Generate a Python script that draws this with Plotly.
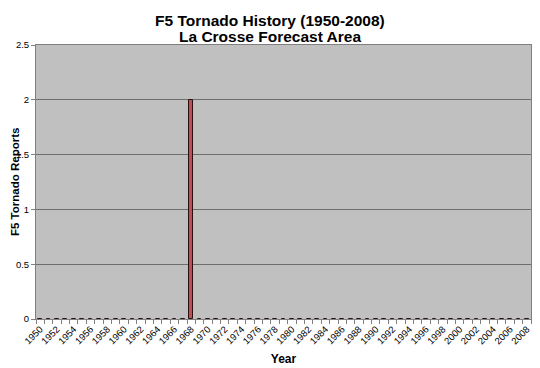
import plotly.graph_objects as go

years = list(range(1950, 2009))
reports = [0] * len(years)
reports[years.index(1968)] = 2
tick_years = list(range(1950, 2009, 2))
title_lines = ["F5 Tornado History (1950-2008)", "La Crosse Forecast Area"]

fig = go.Figure()
fig.add_trace(go.Bar(
    x=years, y=reports, width=0.45,
    marker=dict(color="#bb5055", line=dict(color="#2a1010", width=1)),
))
fig.update_layout(
    width=532, height=360,
    paper_bgcolor="white", plot_bgcolor="#c0c0c0",
    margin=dict(l=28, r=9, t=37, b=49, autoexpand=False),
    showlegend=False,
    font=dict(family="Arial, Liberation Sans", color="black"),
    bargap=0,
)
for i, line in enumerate(title_lines):
    fig.add_annotation(
        text="<b>" + line + "</b>", xref="paper", yref="paper",
        x=0.473, y=1, xanchor="center", yanchor="middle",
        yshift=25 - 16 * i, showarrow=False,
        font=dict(size=15.5, color="black"),
    )
fig.add_annotation(
    text="<b>F5 Tornado Reports</b>", xref="paper", yref="paper",
    x=0, y=0.5, xanchor="center", yanchor="middle", xshift=-21,
    textangle=-90, showarrow=False, font=dict(size=11.5, color="black"),
)
fig.update_xaxes(
    range=[1949.5, 2008.5], automargin=False,
    tickmode="array", tickvals=tick_years, ticktext=[str(y) for y in tick_years],
    tickangle=-45, tickfont=dict(size=9.5), ticks="",
    showgrid=False, showline=True, linecolor="#808080", mirror=True,
    minor=dict(ticks="outside", ticklen=4, tick0=1949.5, dtick=1, tickcolor="#808080", showgrid=False),
    title=dict(text="<b>Year</b>", font=dict(size=12), standoff=9),
    zeroline=False,
)
fig.update_yaxes(
    range=[0, 2.5], dtick=0.5, tickformat="~g", automargin=False,
    tickfont=dict(size=9.5), ticks="outside", ticklen=4, tickcolor="#808080",
    showgrid=True, gridcolor="#6e6e6e", gridwidth=1,
    showline=True, linecolor="#808080", mirror=True,
    zeroline=False,
)
fig.write_html("out.html")
